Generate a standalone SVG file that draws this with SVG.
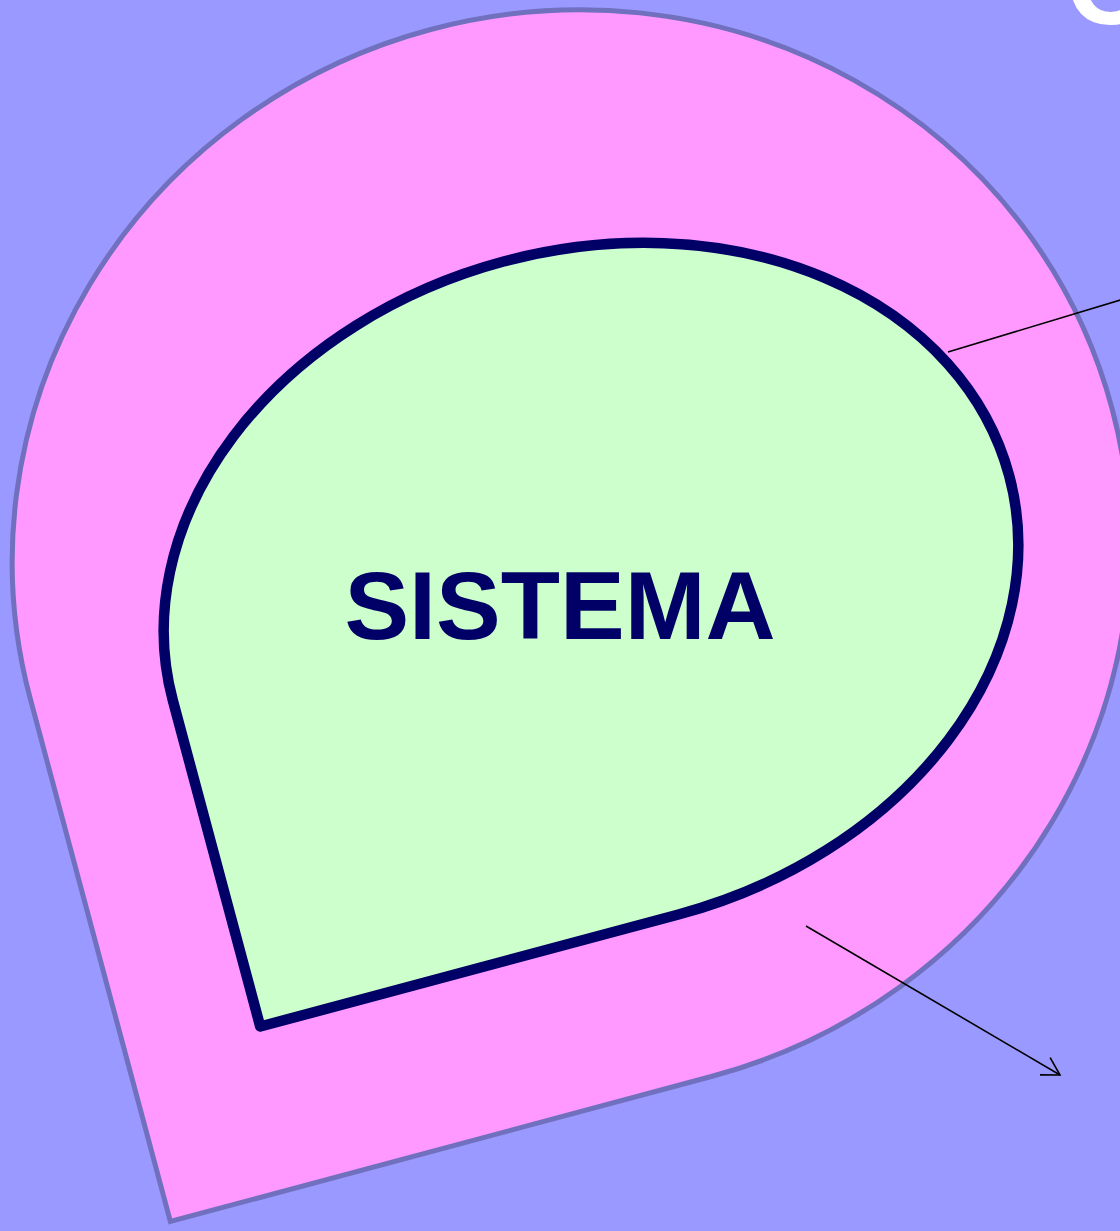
<svg xmlns="http://www.w3.org/2000/svg" width="1120" height="1231" viewBox="0 0 1120 1231">
<style>
.outer{fill:#ff99ff;stroke:#7070bf;stroke-width:5}
.inner{fill:#ccffcc;stroke:#000066;stroke-width:10.5;stroke-linejoin:round}
.lbl{font-family:"Liberation Sans",Arial,sans-serif;font-weight:bold}
.conn{stroke:#000;stroke-width:1.6;fill:none}
</style>
<defs>
<marker id="open" viewBox="-22 -12 24 24" markerWidth="24" markerHeight="24" refX="0" refY="0" orient="auto" markerUnits="userSpaceOnUse">
<path d="M-17.3,-10 L0,0 L-17.3,10" fill="none" stroke="#000" stroke-width="1.6"/>
</marker>
</defs>
<rect width="1120" height="1231" fill="#9999ff"/>
<g id="entorno">
<path class="outer" transform="translate(571,553) rotate(-15)" d="M-560,542 L-560,0 A560 542 0 0 1 0,-542 A560 542 0 0 1 560,0 A560 542 0 0 1 0,542 Z"/>
</g>
<g id="sistema">
<path class="inner" transform="translate(591,588) rotate(-15)" d="M-433,338 L-433,0 A433 338 0 0 1 0,-338 A433 338 0 0 1 433,0 A433 338 0 0 1 0,338 Z"/>
<text class="lbl" x="560" y="639" font-size="97" fill="#000066" text-anchor="middle">SISTEMA</text>
</g>
<g id="label-top">
<text class="lbl" x="1066" y="24" font-size="115" fill="#ffffff">O</text>
</g>
<g id="connectors">
<line class="conn" x1="948" y1="352" x2="1160" y2="288"/>
<line class="conn" x1="806" y1="926" x2="1060" y2="1075" marker-end="url(#open)"/>
</g>
</svg>
